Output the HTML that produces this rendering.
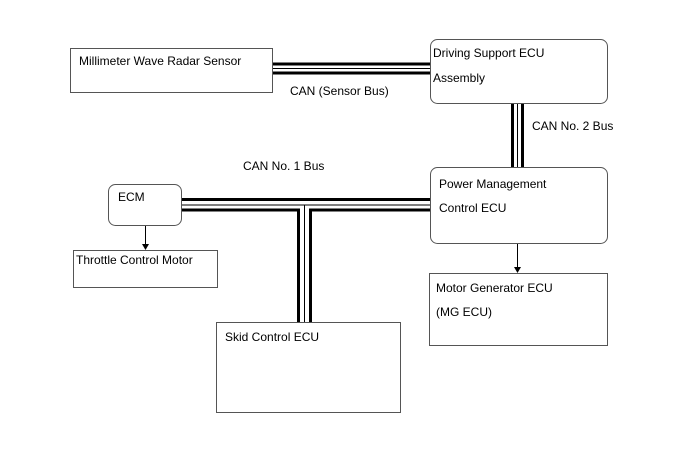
<!DOCTYPE html>
<html><head><style>
body{margin:0;background:#fff}
svg text{font-family:"Liberation Sans",Arial,sans-serif;font-size:12px;fill:#000}
</style></head><body>
<svg width="690" height="465" viewBox="0 0 690 465" xmlns="http://www.w3.org/2000/svg">
<g fill="none" stroke="#555" stroke-width="1">
<rect x="70.5" y="48.5" width="202" height="44"/>
<rect x="430.5" y="39.5" width="177" height="64" rx="7"/>
<rect x="430.5" y="167.5" width="177" height="76" rx="7"/>
<rect x="108.5" y="184.5" width="73" height="41" rx="7"/>
<rect x="73.5" y="250.5" width="144" height="37"/>
<rect x="216.5" y="322.5" width="184" height="90"/>
<rect x="429.5" y="273.5" width="178" height="72"/>
</g>
<g stroke="#000" fill="none">
<!-- sensor bus -->
<line x1="273" y1="64" x2="430" y2="64" stroke-width="3"/>
<line x1="273" y1="68.5" x2="430" y2="68.5" stroke-width="1"/>
<line x1="273" y1="73" x2="430" y2="73" stroke-width="3"/>
<!-- CAN2 vertical -->
<line x1="512.5" y1="104" x2="512.5" y2="167" stroke-width="3"/>
<line x1="517.5" y1="104" x2="517.5" y2="167" stroke-width="1"/>
<line x1="522.5" y1="104" x2="522.5" y2="167" stroke-width="3"/>
<!-- CAN1 -->
<line x1="182" y1="199.5" x2="430" y2="199.5" stroke-width="3"/>
<polyline points="182,205 304.5,205 304.5,322" stroke-width="1"/>
<line x1="304.5" y1="205" x2="430" y2="205" stroke-width="1"/>
<polyline points="182,210 298.5,210 298.5,322" stroke-width="3"/>
<polyline points="310.5,322 310.5,210 430,210" stroke-width="3"/>
<!-- arrows -->
<line x1="145.5" y1="226" x2="145.5" y2="245" stroke-width="1"/>
<line x1="517.5" y1="244" x2="517.5" y2="268" stroke-width="1"/>
</g>
<polygon points="142,244 149,244 145.5,250" fill="#000"/>
<polygon points="514,267 521,267 517.5,273" fill="#000"/>
<text x="79" y="65">Millimeter Wave Radar Sensor</text>
<text x="433" y="57">Driving Support ECU</text>
<text x="433" y="82">Assembly</text>
<text x="290" y="95">CAN (Sensor Bus)</text>
<text x="532" y="130">CAN No. 2 Bus</text>
<text x="243" y="170">CAN No. 1 Bus</text>
<text x="439" y="188">Power Management</text>
<text x="439" y="212">Control ECU</text>
<text x="118" y="201">ECM</text>
<text x="76" y="264">Throttle Control Motor</text>
<text x="225" y="341">Skid Control ECU</text>
<text x="436" y="292">Motor Generator ECU</text>
<text x="436" y="316">(MG ECU)</text>
</svg>
</body></html>
